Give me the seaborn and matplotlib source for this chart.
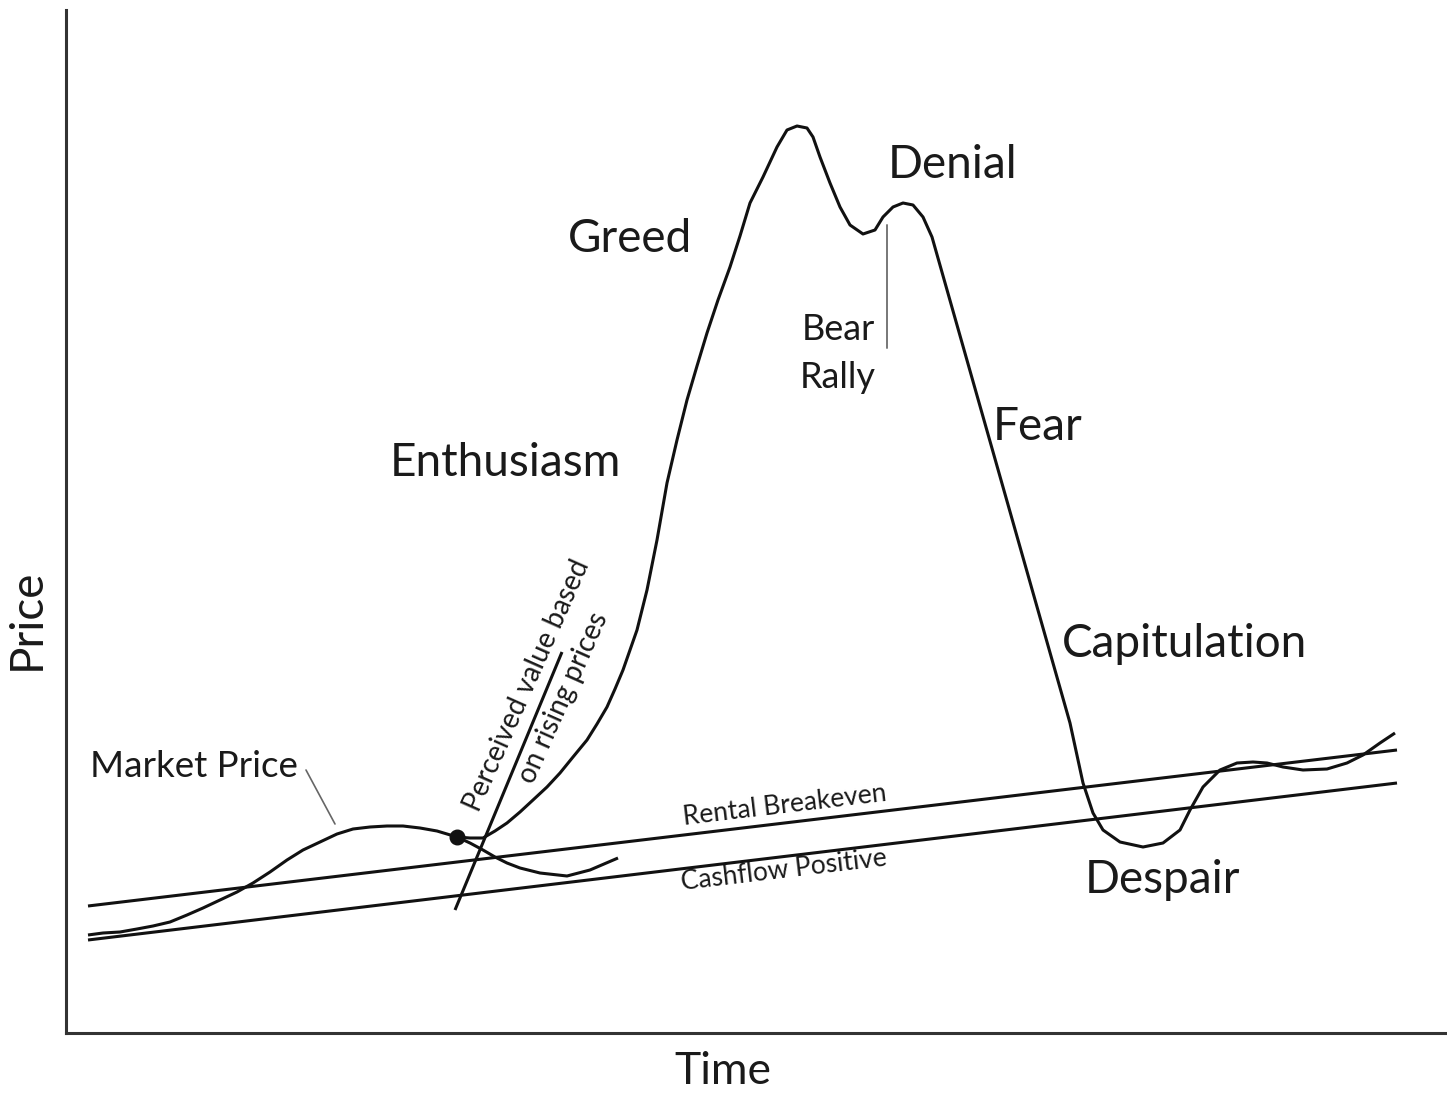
import matplotlib
matplotlib.use("Agg")
import matplotlib.pyplot as plt
import seaborn as sns

# market cycle: time on x, price on y (arbitrary units)
market_time = [88, 103, 120, 137, 153, 170, 187, 203, 220, 237,
               253, 270, 287, 303, 320, 337, 353, 370, 387, 403,
               420, 437, 457, 470, 483, 495, 507, 520, 533, 547,
               560, 573, 587, 597, 607, 615, 623, 630, 637, 647,
               657, 667, 677, 687, 697, 707, 718, 730, 740, 750,
               763, 777, 787, 797, 807, 813, 820, 830, 840, 850,
               863, 875, 883, 893, 903, 913, 923, 932, 1070, 1083,
               1093, 1103, 1120, 1143, 1163, 1180, 1190, 1203, 1220, 1237,
               1253, 1267, 1283, 1303, 1327, 1347, 1363, 1380, 1395]
market_price = [168, 170, 171, 174, 177, 181, 188, 195, 203, 211,
                220, 231, 243, 253, 261, 269, 274, 276, 277, 277,
                275, 272, 266, 265, 265, 272, 280, 291, 303, 316,
                330, 346, 363, 379, 396, 414, 433, 453, 473, 513,
                563, 620, 663, 703, 737, 770, 803, 836, 867, 900,
                926, 956, 973, 977, 975, 966, 946, 920, 896, 878,
                869, 873, 886, 896, 900, 898, 886, 866, 380, 320,
                290, 273, 261, 256, 260, 273, 293, 316, 333, 340,
                341, 340, 336, 333, 334, 340, 348, 360, 370]

# where the price would have gone without the bubble
branch_time = [457, 470, 483, 495, 507, 520, 540, 567, 590, 618]
branch_price = [266, 260, 253, 246, 240, 235, 230, 227, 233, 245]

perceived_time = [455, 562]
perceived_price = [193, 451]

rental_time = [88, 1397]
rental_price = [197, 353]

cashflow_time = [88, 1397]
cashflow_price = [163, 320]

turn_time = [457]
turn_price = [266]

phases = ["Greed", "Denial", "Fear", "Enthusiasm", "Capitulation", "Despair"]
phase_time = [568, 888, 993, 390, 1062, 1085]
phase_price = [851, 925, 663, 627, 446, 210]

sns.set_style("white")
plt.rcParams['font.family'] = ['Lato', 'DejaVu Sans']

fig = plt.figure(figsize=(14.47, 11.03), dpi=100)
ax = fig.add_axes([66 / 1447, 70 / 1103, 1381 / 1447, 1023 / 1103])

ink = "#111111"
lw = 2.2
for t, p in [(market_time, market_price), (branch_time, branch_price),
             (perceived_time, perceived_price), (rental_time, rental_price),
             (cashflow_time, cashflow_price)]:
    sns.lineplot(x=t, y=p, sort=False, estimator=None, color=ink, linewidth=lw,
                 ax=ax, solid_capstyle='butt', solid_joinstyle='round')

ax.scatter(turn_time, turn_price, s=110, color=ink, zorder=5)

# leader lines
ax.plot([306, 335], [333, 279], color="#666666", linewidth=1.2)
ax.plot([887, 887], [878, 755], color="#777777", linewidth=1.4)

txt = "#1a1a1a"
for name, t, p in zip(phases, phase_time, phase_price):
    ax.text(t, p, name, fontsize=33, color=txt, ha='left', va='baseline')

ax.text(90, 326, "Market Price", fontsize=26.5, color=txt, ha='left', va='baseline')
ax.text(802, 763, "Bear", fontsize=26, color=txt, ha='left', va='baseline')
ax.text(800, 715, "Rally", fontsize=26, color=txt, ha='left', va='baseline')

ax.text(785, 298, "Rental Breakeven", fontsize=19, color=txt, rotation=6.8,
        ha='center', va='center', rotation_mode='anchor')
ax.text(784, 233, "Cashflow Positive", fontsize=19, color=txt, rotation=6.8,
        ha='center', va='center', rotation_mode='anchor')
ax.text(527, 418, "Perceived value based", fontsize=20, color=txt, rotation=66,
        ha='center', va='center', rotation_mode='anchor')
ax.text(564, 405, "on rising prices", fontsize=20, color=txt, rotation=66,
        ha='center', va='center', rotation_mode='anchor')

ax.set_xlim(66, 1447)
ax.set_ylim(70, 1093)
ax.set_xticks([])
ax.set_yticks([])
sns.despine(ax=ax)
for side in ['left', 'bottom']:
    ax.spines[side].set_color("#333333")
    ax.spines[side].set_linewidth(2.2)

ax.set_xlabel("Time", fontsize=32, color=txt)
ax.set_ylabel("Price", fontsize=33, color=txt)
ax.xaxis.set_label_coords(0.476, -0.018)
ax.yaxis.set_label_coords(-0.013, 0.404)

fig.savefig("out.png", dpi=100, facecolor="white")
